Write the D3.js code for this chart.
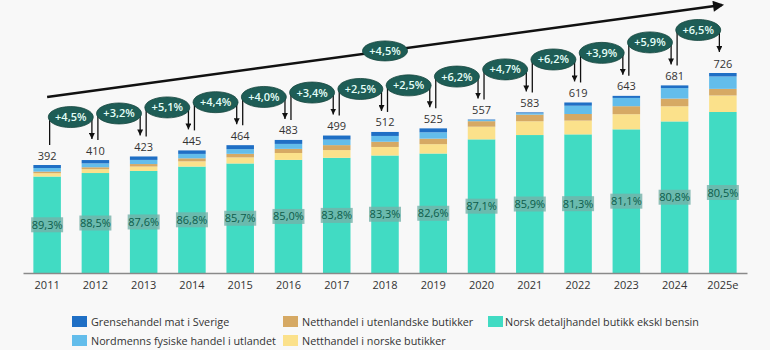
<!DOCTYPE html>
<html><head><meta charset="utf-8">
<script src="https://cdn.jsdelivr.net/npm/d3@7"></script>
<style>body{margin:0;background:#f8f8f8;}svg{display:block;font-family:"Open Sans",sans-serif;}</style>
</head><body><svg id="c" width="770" height="350"></svg>
<script>
const years = ["2011","2012","2013","2014","2015","2016","2017","2018","2019","2020","2021","2022","2023","2024","2025e"];
const totals = [392,410,423,445,464,483,499,512,525,557,583,619,643,681,726];
const shareLabels = ["89,3%","88,5%","87,6%","86,8%","85,7%","85,0%","83,8%","83,3%","82,6%","87,1%","85,9%","81,3%","81,1%","80,8%","80,5%"];
const growthLabels = ["+4,5%","+3,2%","+5,1%","+4,4%","+4,0%","+3,4%","+2,5%","+2,5%","+6,2%","+4,7%","+6,2%","+3,9%","+5,9%","+6,5%"];
const cagrLabel = "+4,5%";
// series values (bn NOK) bottom -> top
const norskButikk   = [350.1,362.9,370.5,386.3,397.6,410.6,418.2,426.5,433.7,485.1,500.8,503.2,521.5,550.2,584.4];
const nettNorske    = [12,14,16,19,22,25,28,31,34,46,50,50,55,55,60];
const nettUtenland  = [6,7,9,11,13,15,18,19,20,20,24,24,29,28,24];
const fysiskUtland  = [13,14,15,16,17,18,20,21,23,4,5,30,30,38,45];
const grensehandel  = [10.9,12.1,12.5,12.7,14.4,14.4,14.8,14.5,14.3,1.9,3.2,11.8,7.5,9.8,12.6];

const seriesNames = ["Norsk detaljhandel butikk ekskl bensin","Netthandel i norske butikker","Netthandel i utenlandske butikker","Nordmenns fysiske handel i utlandet","Grensehandel mat i Sverige"];
const seriesData = [norskButikk,nettNorske,nettUtenland,fysiskUtland,grensehandel];
const colors = ["#41dbc3","#fbe18b","#d6a964","#63bdeb","#1f6fc5"];

const svg = d3.select("#c");
const rows = years.map((y,i)=>{const o={year:y}; seriesNames.forEach((s,k)=>o[s]=seriesData[k][i]); return o;});
const stack = d3.stack().keys(seriesNames)(rows);

const x = d3.scaleBand().domain(years).range([23,747]).paddingInner(0.43).paddingOuter(0.215);
const y = d3.scaleLinear().domain([0,726]).range([273,73]);
const cx = d => x(d)+x.bandwidth()/2;

// bars
svg.append("g").selectAll("g").data(stack).join("g").attr("fill",(d,i)=>colors[i])
  .selectAll("rect").data(d=>d).join("rect")
  .attr("x",d=>x(d.data.year)).attr("width",x.bandwidth())
  .attr("y",d=>y(d[1])).attr("height",d=>y(d[0])-y(d[1]));

// axis
const ax = svg.append("g").attr("transform","translate(0,273)")
  .call(d3.axisBottom(x).tickSize(0).tickSizeOuter(0).tickPadding(8));
ax.select(".domain").attr("stroke","#8a8a8a").attr("stroke-width",1.5);
ax.selectAll("text").attr("font-size",11).attr("fill","#333").attr("font-family","Open Sans");

// share labels
const sl = svg.append("g");
years.forEach((yr,i)=>{
  const my = (y(0)+y(norskButikk[i]))/2;
  sl.append("rect").attr("x",cx(yr)-16).attr("y",my-7.5).attr("width",32).attr("height",15).attr("fill","#74b2a9").attr("opacity",0.8);
  sl.append("text").attr("x",cx(yr)).attr("y",my+4).attr("text-anchor","middle").attr("font-size",11).attr("fill","#0c5c4a").text(shareLabels[i]);
});

// totals
svg.append("g").selectAll("text").data(years).join("text")
  .attr("x",d=>cx(d)).attr("y",(d,i)=>y(totals[i])-5.5).attr("text-anchor","middle")
  .attr("font-size",11).attr("fill","#333").text((d,i)=>totals[i]);

// growth connectors
const defs = svg.append("defs");
defs.append("marker").attr("id","ah").attr("viewBox","0 0 10 10").attr("refX",10).attr("refY",5)
  .attr("markerWidth",6).attr("markerHeight",6).attr("markerUnits","userSpaceOnUse").attr("orient","auto")
  .append("path").attr("d","M0,0L10,5L0,10Z").attr("fill","#111");
defs.append("marker").attr("id","ah2").attr("viewBox","0 0 10 10").attr("refX",8).attr("refY",5)
  .attr("markerWidth",13).attr("markerHeight",11).attr("markerUnits","userSpaceOnUse").attr("orient","auto")
  .append("path").attr("d","M0,0L10,5L0,10Z").attr("fill","#111");

const g = svg.append("g");
growthLabels.forEach((lab,i)=>{
  const a = years[i], b = years[i+1];
  const ey = y(totals[i+1]) - 43;
  const lx = cx(a)+2.5, rx = cx(b)-3.5;
  const ex = (lx+rx)/2;
  g.append("line").attr("x1",lx).attr("x2",lx).attr("y1",ey).attr("y2",y(totals[i])-20).attr("stroke","#111").attr("stroke-width",1.3);
  g.append("line").attr("x1",rx).attr("x2",rx).attr("y1",ey).attr("y2",y(totals[i+1])-21).attr("stroke","#111").attr("stroke-width",1.3).attr("marker-end","url(#ah)");
  g.append("ellipse").attr("cx",ex).attr("cy",ey).attr("rx",22.5).attr("ry",10.5).attr("fill","#1e5d56").attr("stroke","#17463f").attr("stroke-width",0.8);
  g.append("text").attr("x",ex).attr("y",ey+4).attr("text-anchor","middle").attr("font-size",11).attr("font-weight",600).attr("fill","#e4fff8").text(lab);
});

// trend arrow
const tx1 = cx(years[0]), ty1 = y(totals[0]) - 68;
const tx2 = cx(years[years.length-1]) - 1, ty2 = 5;
svg.append("line").attr("x1",tx1).attr("y1",ty1).attr("x2",tx2).attr("y2",ty2).attr("stroke","#111").attr("stroke-width",2.5).attr("marker-end","url(#ah2)");
const mx = cx(years[7]);
const my = ty1 + (mx-tx1)/(tx2-tx1)*(ty2-ty1);
svg.append("ellipse").attr("cx",mx).attr("cy",my).attr("rx",22.5).attr("ry",10).attr("fill","#1e5d56").attr("stroke","#17463f").attr("stroke-width",0.8);
svg.append("text").attr("x",mx).attr("y",my+4).attr("text-anchor","middle").attr("font-size",11).attr("font-weight",600).attr("fill","#e4fff8").text(cagrLabel);

// legend
const legendItems = [
  {k:4,x:72,y:316},{k:2,x:283,y:316},{k:0,x:488,y:316},
  {k:3,x:72,y:335},{k:1,x:283,y:335}
];
const lg = svg.append("g");
legendItems.forEach(it=>{
  lg.append("rect").attr("x",it.x).attr("y",it.y).attr("width",15).attr("height",11).attr("fill",colors[it.k]);
  lg.append("text").attr("x",it.x+(it.x===488?17:19)).attr("y",it.y+10).attr("font-size",10.8).attr("fill","#333").text(seriesNames[it.k]);
});
</script></body></html>
